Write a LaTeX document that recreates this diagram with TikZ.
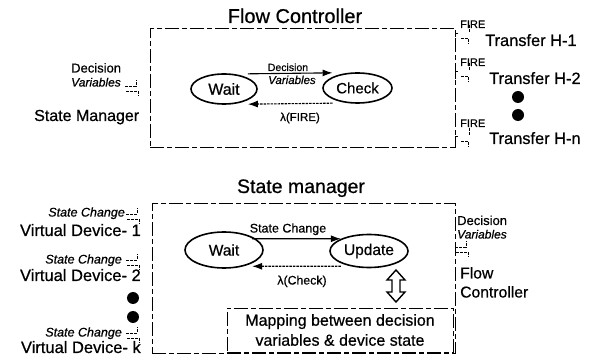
\documentclass[tikz,border=0pt]{standalone}
\usepackage{fontspec}
\setmainfont{Liberation Sans}[FakeBold=0.6]
\usetikzlibrary{arrows.meta,shapes.geometric}
\begin{document}
\begin{tikzpicture}[x=1pt,y=-1pt,
  fs/.style={font=\fontsize{#1}{#1}\selectfont},
  lbl/.style={inner sep=0pt, anchor=base},
  lblw/.style={inner sep=0pt, anchor=base west},
  lble/.style={inner sep=0pt, anchor=base east},
  st/.style={draw, ellipse, line width=1.6pt, inner sep=0pt},
  frame/.style={draw, line width=0.8pt, dash pattern=on 14pt off 3pt on 5pt off 3pt},
  arr/.style={line width=1.1pt, -{Latex[length=10pt,width=7pt]}},
  darr/.style={arr, dash pattern=on 2.5pt off 1pt},
  portline/.style={line width=0.6pt, dash pattern=on 3pt off 1pt},
  dotmark/.style={circle, fill=black, inner sep=0pt, minimum size=12pt},
  port/.pic={\draw[portline] (0,0) -- (11,0) -- (11,-6);
             \draw[portline] (1,5) -- (13,5) -- (13,10);},
  rport/.pic={\draw[portline] (3,0) -- (0,0) -- (0,10);
              \draw[portline] (6,5) -- (13,5) -- (13,11);
              \draw[portline] (14,-1) -- (14,-9);}
]
\useasboundingbox (0,0) rectangle (590,358);

% ---------------- Flow Controller ----------------
\node[lbl, fs=20] (fctitle) at (295,23) {Flow Controller};
\node[frame, minimum width=305pt, minimum height=119pt, inner sep=0pt] (fcbox) at (302.5,87.5) {};

\node[st, fs=16, minimum width=66pt, minimum height=30pt] (w1) at (224,89) {Wait};
\node[st, fs=15, minimum width=69pt, minimum height=30pt] (c1) at (357.5,88) {Check};

\draw[arr] ([yshift=4pt]w1.north east) -- ([yshift=4pt]c1.north west);
\draw[darr] ([yshift=-4pt]c1.south west) -- ([yshift=-4pt]w1.south east);

\node[lbl, fs=10.5] (dv1a) at (288,71) {Decision};
\node[lbl, fs=11.5] (dv1b) at (292,84) {\itshape Variables};
\node[lbl, fs=11.5] (lf) at (300,121) {λ(FIRE)};

% left side
\node[lblw, fs=13] (ldv1) at (71,72.5) {Decision};
\node[lblw, fs=12] (ldv2) at (71,86.5) {\itshape Variables};
\pic at (125,86) {port};
\node[lblw, fs=16] (smg) at (34,121) {State Manager};

% right side
\node[lblw, fs=11] (fire1) at (460,28) {FIRE};
\pic at (455,33) {rport};
\node[lblw, fs=16.4] (th1) at (485,46) {Transfer H-1};
\node[lblw, fs=11] (fire2) at (460,66) {FIRE};
\pic at (455,71) {rport};
\node[lblw, fs=16.4] (th2) at (489,84) {Transfer H-2};
\node[dotmark] (d1) at (518,97) {};
\node[dotmark] (d2) at (518,115) {};
\node[lblw, fs=11] (fire3) at (460,127) {FIRE};
\pic at (455,136) {rport};
\node[lblw, fs=16.4] (thn) at (489,144) {Transfer H-n};

% ---------------- State manager ----------------
\node[lbl, fs=19.5] (smtitle) at (301,193) {State manager};
\node[frame, minimum width=303pt, minimum height=150pt, inner sep=0pt] (smbox) at (303.5,278) {};

\node[st, fs=15.5, minimum width=78pt, minimum height=36pt] (w2) at (224,250) {Wait};
\node[st, fs=15.5, minimum width=78pt, minimum height=33pt] (up) at (369,251) {Update};

\draw[arr] ([yshift=-2pt]w2.north east) -- ([yshift=0pt]up.north west);
\draw[darr] ([yshift=-3pt]up.south west) -- ([yshift=-3pt]w2.south east);

\node[lbl, fs=12.5] (scl) at (288,232.5) {State Change};
\node[lbl, fs=12.3] (lc) at (302,284.5) {λ(Check)};

% hollow double arrow
\draw[line width=1.4pt, line join=miter]
  (396,270) -- (405,280) -- (400,280) -- (400,292) -- (405,292) -- (396,302)
  -- (387,292) -- (392,292) -- (392,280) -- (387,280) -- cycle;

\node[draw, line width=0.8pt, dash pattern=on 14pt off 3pt on 5pt off 3pt,
      minimum width=226pt, minimum height=44pt, inner sep=0pt,
      align=center, font=\fontsize{16}{20}\selectfont] (map) at (340,330)
  {Mapping between decision\\variables \& device state};

% left side
\node[lble, fs=12.5] (sc1) at (125,216.5) {\itshape State Change};
\pic at (126,214) {port};
\node[lble, fs=16.5] (vd1) at (141,236) {Virtual Device- 1};
\node[lble, fs=12.5] (sc2) at (122,263.5) {\itshape State Change};
\pic at (126,260) {port};
\node[lble, fs=16.5] (vd2) at (141,281) {Virtual Device- 2};
\node[dotmark] (d3) at (133,298) {};
\node[dotmark] (d4) at (133,317) {};
\node[lble, fs=12.5] (sc3) at (122,336.5) {\itshape State Change};
\pic at (126,333) {port};
\node[lble, fs=16.5] (vdk) at (141,353) {Virtual Device- k};

% right side
\node[lblw, fs=13] (rdv1) at (457,225) {Decision};
\node[lblw, fs=12] (rdv2) at (457,238.5) {\itshape Variables};
\pic at (455,247) {port};
\node[lblw, fs=15.7] (rfc1) at (460,278.5) {Flow};
\node[lblw, fs=15.7] (rfc2) at (460,297.5) {Controller};
\end{tikzpicture}
\end{document}
